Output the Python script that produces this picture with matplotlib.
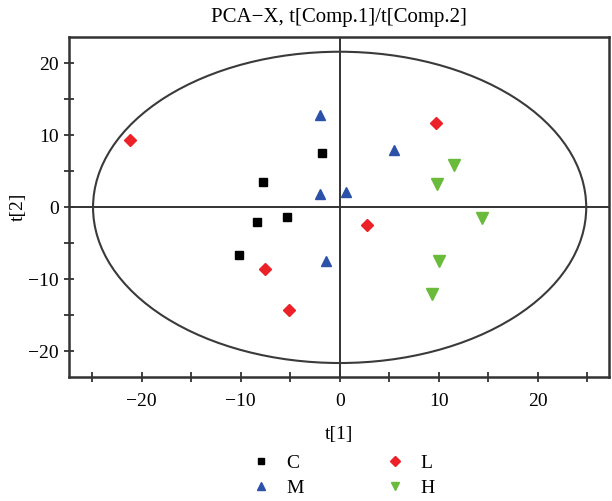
import numpy as np
import matplotlib.pyplot as plt
from matplotlib.patches import Ellipse
from matplotlib.ticker import MultipleLocator

# PCA scores t[1], t[2] per group
c_t1 = [-1.8, -7.7, -5.3, -8.3, -10.2]
c_t2 = [7.5, 3.5, -1.3, -2.0, -6.6]
m_t1 = [-2.0, -2.0, 0.6, -1.4, 5.5]
m_t2 = [12.8, 1.9, 2.2, -7.4, 8.0]
l_t1 = [-21.2, -7.5, -5.1, 9.7, 2.8]
l_t2 = [9.3, -8.5, -14.2, 11.7, -2.5]
h_t1 = [11.5, 9.8, 14.4, 10.0, 9.3]
h_t2 = [5.9, 3.3, -1.5, -7.5, -12.0]

# Hotelling T2 ellipse semi-axes
ell_a = 24.9
ell_b = 21.6

plt.rcParams['font.family'] = ['Liberation Serif', 'DejaVu Serif']
plt.rcParams['axes.unicode_minus'] = True

fig = plt.figure(figsize=(6.12, 5.01), dpi=100)
ax = fig.add_axes([0.1132, 0.2481, 0.8819, 0.6774])

ax.axhline(0, color='#333333', lw=1.4, zorder=1)
ax.axvline(0, color='#333333', lw=1.4, zorder=1)
ax.add_patch(Ellipse((0, 0), 2 * ell_a, 2 * ell_b, fill=False,
                     edgecolor='#3a3a3a', lw=1.5, zorder=1))

ax.plot(c_t1, c_t2, 's', color='black', ms=6, ls='none', label='C', zorder=3)
ax.plot(m_t1, m_t2, '^', color='#2b52a8', ms=7, ls='none', label='M', zorder=3)
ax.plot(l_t1, l_t2, 'D', color='#ec2228', ms=6.5, ls='none', label='L', zorder=3)
ax.plot(h_t1, h_t2, 'v', color='#6abb3c', ms=8, ls='none', label='H', zorder=3)

ax.set_xlim(-27.3, 27.2)
ax.set_ylim(-23.5, 23.6)
ax.xaxis.set_major_locator(MultipleLocator(10))
ax.xaxis.set_minor_locator(MultipleLocator(5))
ax.yaxis.set_major_locator(MultipleLocator(10))
ax.yaxis.set_minor_locator(MultipleLocator(5))
ax.tick_params(which='both', direction='inout', length=7, width=1.3,
               color='#333333', labelsize=14)
ax.tick_params(axis='x', which='major', pad=8)
ax.tick_params(axis='y', which='major', pad=4)
for s in ax.spines.values():
    s.set_linewidth(1.8)
    s.set_color('#333333')

ax.set_title('PCA\u2212X, t[Comp.1]/t[Comp.2]', fontsize=15, pad=11)
ax.set_xlabel('t[1]', fontsize=14, labelpad=12)
ax.set_ylabel('t[2]', fontsize=14, labelpad=1)

fig.legend(loc='center', bbox_to_anchor=(0.56, 0.050), ncol=2, frameon=False,
           fontsize=14, handlelength=1.0, handletextpad=0.8, columnspacing=4.2,
           labelspacing=0.38, markerscale=0.8, borderpad=0.2)

fig.savefig('out.png', dpi=100)
